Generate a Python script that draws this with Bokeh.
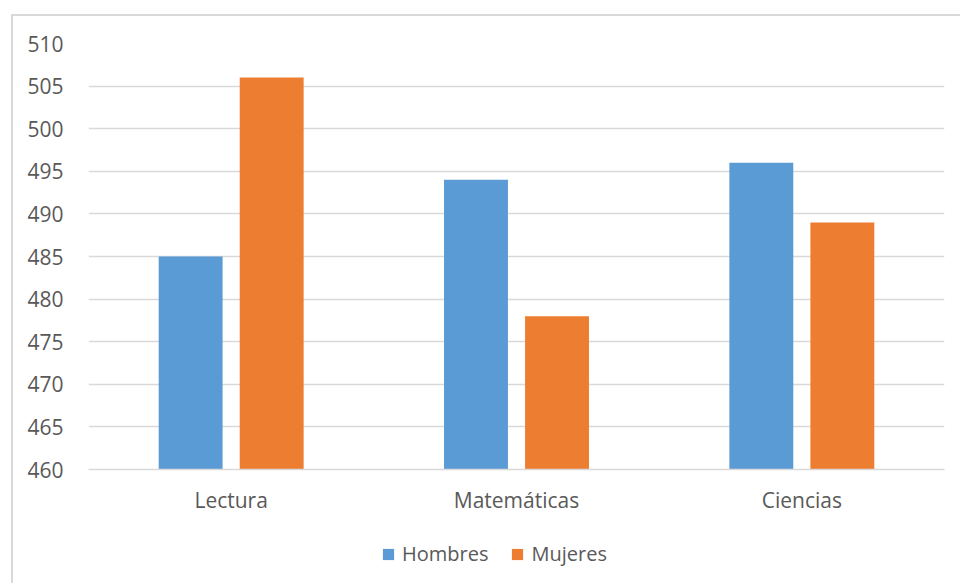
from bokeh.plotting import figure
from bokeh.layouts import column
from bokeh.models import ColumnDataSource, FactorRange, FixedTicker, Legend, LegendItem
from bokeh.transform import dodge
from bokeh.embed import file_html
from bokeh.resources import INLINE

categories = ["Lectura", "Matemáticas", "Ciencias"]
hombres = [485, 494, 496]
mujeres = [506, 478, 489]
y_ticks = [460, 465, 470, 475, 480, 485, 490, 495, 500, 505, 510]
series_names = ["Hombres", "Mujeres"]

BLUE = "#5B9BD5"
ORANGE = "#ED7D31"
TEXT = "#595959"
GRID = "#d9d9d9"
FONT = "Open Sans"

src = ColumnDataSource(dict(cat=categories, h=hombres, m=mujeres))

p = figure(width=947, height=513, x_range=FactorRange(*categories, range_padding=0),
           y_range=(460, 510), output_backend="svg", toolbar_location=None,
           min_border_left=75, min_border_right=16, min_border_top=27, min_border_bottom=60)
p.outline_line_color = None

rh = p.vbar(x=dodge("cat", -0.142, range=p.x_range), top="h", bottom=460, width=0.224,
            source=src, color=BLUE, line_color=None)
rm = p.vbar(x=dodge("cat", 0.142, range=p.x_range), top="m", bottom=460, width=0.224,
            source=src, color=ORANGE, line_color=None)

p.yaxis.ticker = FixedTicker(ticks=y_ticks)
for ax in (p.xaxis[0], p.yaxis[0]):
    ax.major_label_text_font = FONT
    ax.major_label_text_font_size = "21px"
    ax.major_label_text_color = TEXT
    ax.major_tick_line_color = None
    ax.minor_tick_line_color = None
p.yaxis.axis_line_color = None
p.yaxis.major_label_standoff = 19
p.xaxis.axis_line_color = GRID
p.xaxis.axis_line_width = 1.5
p.xaxis.major_label_standoff = 10
p.xgrid.grid_line_color = None
p.ygrid.grid_line_color = GRID
p.ygrid.grid_line_width = 1.5

# legend strip
lf = figure(width=947, height=54, output_backend="svg", toolbar_location=None,
            min_border=0, x_range=(0, 1), y_range=(0, 1))
lf.axis.visible = False
lf.grid.grid_line_color = None
lf.outline_line_color = None
gh = lf.vbar(x=[0.5], top=[0], bottom=[0], width=0.01, color=BLUE, line_color=None)
gm = lf.vbar(x=[0.5], top=[0], bottom=[0], width=0.01, color=ORANGE, line_color=None)
legend = Legend(items=[LegendItem(label=series_names[0], renderers=[gh]),
                       LegendItem(label=series_names[1], renderers=[gm])],
                orientation="horizontal", location=(293, 16),
                glyph_width=14, glyph_height=14, label_standoff=7, spacing=22,
                padding=0, margin=0, border_line_color=None, background_fill_alpha=0,
                label_text_font=FONT, label_text_font_size="20px", label_text_color=TEXT)
lf.add_layout(legend, "center")

layout = column(p, lf, spacing=0)
layout.styles = {"margin-left": "11px", "margin-top": "14px",
                 "border-left": "2px solid #d9d9d9", "border-top": "2px solid #d9d9d9"}

open("out.html", "w").write(file_html(layout, INLINE))
